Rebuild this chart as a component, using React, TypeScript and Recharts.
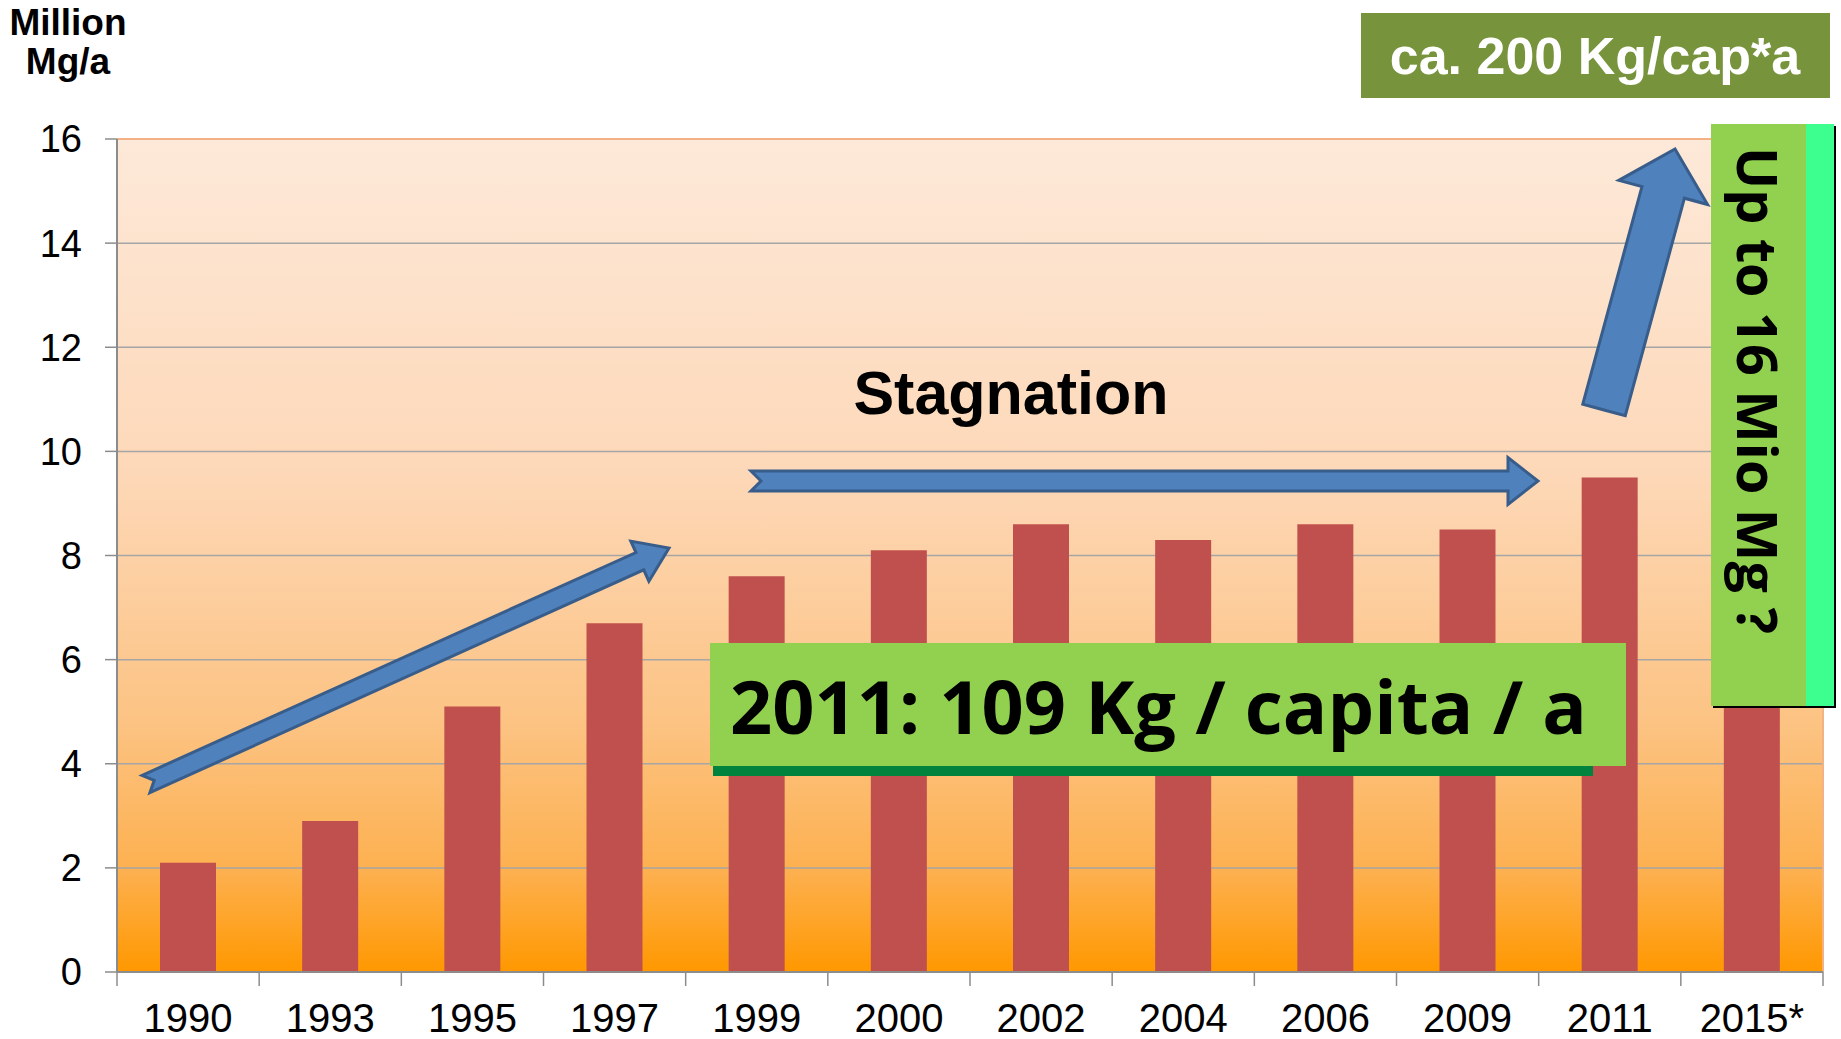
import {
  Bar,
  BarChart,
  CartesianGrid,
  XAxis,
  YAxis,
} from "recharts";

const years = ["1990", "1993", "1995", "1997", "1999", "2000", "2002", "2004", "2006", "2009", "2011", "2015*"];
const amounts = [2.1, 2.9, 5.1, 6.7, 7.6, 8.1, 8.6, 8.3, 8.6, 8.5, 9.5, 16];
const yTicks = [0, 2, 4, 6, 8, 10, 12, 14, 16];

const data = years.map((year, i) => ({ year, amount: amounts[i] }));

const W = 1841;
const H = 1039;
const sans = "'Liberation Sans', Arial, sans-serif";
const calibriLike = "'Open Sans', 'Noto Sans', sans-serif";

// block arrow outline from tail to tip
function arrowPath(
  x1: number, y1: number, x2: number, y2: number,
  shaft: number, head: number, headLen: number, notch: number,
) {
  const len = Math.hypot(x2 - x1, y2 - y1);
  const ux = (x2 - x1) / len;
  const uy = (y2 - y1) / len;
  const px = -uy;
  const py = ux;
  const bx = x2 - ux * headLen;
  const by = y2 - uy * headLen;
  const pts = [
    [x1 + (px * shaft) / 2, y1 + (py * shaft) / 2],
    [bx + (px * shaft) / 2, by + (py * shaft) / 2],
    [bx + (px * head) / 2, by + (py * head) / 2],
    [x2, y2],
    [bx - (px * head) / 2, by - (py * head) / 2],
    [bx - (px * shaft) / 2, by - (py * shaft) / 2],
    [x1 - (px * shaft) / 2, y1 - (py * shaft) / 2],
    [x1 + ux * notch, y1 + uy * notch],
  ];
  return "M" + pts.map((p) => p.join(",")).join("L") + "Z";
}

// category label plus Excel-style tick marks on the band edges
function YearTick(props: any) {
  const { x, y, payload, index, visibleTicksCount } = props;
  const half = payload.offset ?? 0;
  const tickStyle = { stroke: "#8c8c8c", strokeWidth: 1.5 };
  return (
    <g>
      <line x1={x - half} y1={y} x2={x - half} y2={y + 14} {...tickStyle} />
      {index === visibleTicksCount - 1 && (
        <line x1={x + half} y1={y} x2={x + half} y2={y + 14} {...tickStyle} />
      )}
      <text x={x} y={y + 60} textAnchor="middle" fill="#000" fontSize={40} fontFamily={sans}>
        {payload.value}
      </text>
    </g>
  );
}

function Overlay() {
  const arrow = { fill: "#4f81bd", stroke: "#385d8a", strokeWidth: 3, strokeLinejoin: "miter" as const };
  return (
    <svg
      width={W}
      height={H}
      style={{ position: "absolute", left: 0, top: 0, pointerEvents: "none" }}
    >
      <text x={68} y={35} textAnchor="middle" fontFamily={sans} fontWeight="bold" fontSize={37}>
        Million
      </text>
      <text x={68} y={74} textAnchor="middle" fontFamily={sans} fontWeight="bold" fontSize={37}>
        Mg/a
      </text>

      <rect x={1361} y={13} width={469} height={85} fill="#77933c" />
      <text x={1595} y={74} textAnchor="middle" fontFamily={sans} fontWeight="bold" fontSize={52} fill="#fff">
        ca. 200 Kg/cap*a
      </text>

      <text x={1011} y={414} textAnchor="middle" fontFamily={sans} fontWeight="bold" fontSize={61}>
        Stagnation
      </text>

      <path d={arrowPath(146, 784, 669, 548, 19, 44, 32, 9)} {...arrow} />
      <path d={arrowPath(751, 481, 1538, 481, 20, 47, 30, 10)} {...arrow} />
      <path d={arrowPath(1604, 410, 1675, 149, 44, 92, 45, 0)} {...arrow} />

      <rect x={713} y={766} width={880} height={10} fill="#00843d" />
      <rect x={710} y={643} width={916} height={123} fill="#92d050" />
      <text
        x={730}
        y={734}
        fontFamily={calibriLike}
        fontWeight="bold"
        fontSize={74}
        textLength={857}
        lengthAdjust="spacingAndGlyphs"
      >
        2011: 109 Kg / capita / a
      </text>

      <rect x={1713} y={126} width={123} height={582} fill="#000" />
      <rect x={1711} y={124} width={95} height={582} fill="#92d050" />
      <rect x={1806} y={124} width={28} height={582} fill="#3cff8f" />
      <text
        transform="translate(1737, 147) rotate(90)"
        fontFamily={calibriLike}
        fontWeight="bold"
        fontSize={56}
        textLength={487}
        lengthAdjust="spacingAndGlyphs"
      >
        Up to 16 Mio Mg ?
      </text>
    </svg>
  );
}

export default function App() {
  return (
    <div style={{ position: "absolute", left: 0, top: 0, width: W, height: H, background: "#fff" }}>
      <svg width={0} height={0} style={{ position: "absolute" }}>
        <defs>
          <linearGradient id="plotBg" x1="0" y1="0" x2="0" y2="1">
            <stop offset="0%" stopColor="#fde9d9" />
            <stop offset="40%" stopColor="#fdd8b8" />
            <stop offset="70%" stopColor="#fcc383" />
            <stop offset="88%" stopColor="#fdb04f" />
            <stop offset="100%" stopColor="#ff9800" />
          </linearGradient>
        </defs>
      </svg>
      <BarChart
        width={W}
        height={H}
        data={data}
        margin={{ top: 139, right: 18, left: 0, bottom: 0 }}
      >
        <CartesianGrid
          vertical={false}
          stroke="#a6a6a6"
          strokeWidth={1.5}
          fill="url(#plotBg)"
          fillOpacity={1}
        />
        <CartesianGrid
          stroke="#f4b183"
          strokeWidth={2}
          horizontalCoordinatesGenerator={({ offset }: any) => [offset.top]}
          verticalCoordinatesGenerator={({ offset }: any) => [offset.left + offset.width]}
        />
        <XAxis
          dataKey="year"
          height={67}
          tickSize={0}
          tickMargin={0}
          axisLine={{ stroke: "#8c8c8c", strokeWidth: 2 }}
          tickLine={false}
          interval={0}
          tick={<YearTick />}
        />
        <YAxis
          width={117}
          domain={[0, 16]}
          ticks={yTicks}
          interval={0}
          tickSize={12}
          tickMargin={23}
          axisLine={{ stroke: "#8c8c8c", strokeWidth: 2 }}
          tickLine={{ stroke: "#8c8c8c", strokeWidth: 1.5 }}
          tick={{ fill: "#000", fontSize: 38, fontFamily: sans }}
        />
        <Bar dataKey="amount" fill="#c0504d" barSize={56} isAnimationActive={false} />
      </BarChart>
      <Overlay />
    </div>
  );
}
